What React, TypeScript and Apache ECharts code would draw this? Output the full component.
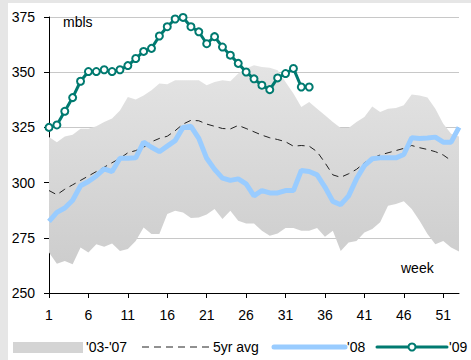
import React, { useEffect, useRef } from "react";
import * as echarts from "echarts";

const weeks: string[] = Array.from({ length: 53 }, (_, i) => String(i + 1));

const bandMax = [
  320.6, 318.3, 320.9, 321.7, 324.4, 324.4, 325.5, 327.4, 329.0, 332.7,
  338.8, 337.6, 339.5, 341.8, 344.9, 344.5, 346.4, 346.4, 346.4, 346.4,
  344.1, 345.6, 346.4, 345.9, 349.4, 351.7, 353.2, 352.4, 352.0, 350.9,
  345.6, 340.3, 334.2, 336.5, 333.5, 330.5, 327.4, 324.7, 324.7, 327.4,
  329.7, 334.5, 332.0, 333.5, 333.8, 335.0, 339.9, 339.5, 338.5, 333.5,
  326.7, 322.1, 320.9,
];

const bandMin = [
  268.3, 263.3, 264.5, 263.0, 270.6, 268.3, 272.1, 270.9, 272.4, 269.0,
  269.9, 273.6, 279.7, 276.7, 276.7, 285.8, 287.3, 286.5, 284.0, 284.2,
  285.5, 288.0, 283.5, 287.3, 282.7, 281.5, 281.5, 278.2, 275.9, 277.0,
  279.4, 279.4, 278.2, 278.2, 279.4, 275.5, 278.2, 269.0, 272.9, 273.6,
  277.4, 279.0, 282.0, 289.5, 290.3, 291.5, 288.0, 282.7, 276.7, 272.1,
  273.6, 270.6, 268.8,
];

const avg5yr = [
  296.4, 294.5, 297.0, 299.0, 301.0, 303.0, 305.0, 307.0, 309.0, 311.0,
  313.5, 314.5, 316.0, 318.5, 320.0, 321.0, 323.5, 326.5, 328.2, 328.0,
  326.5, 325.5, 324.5, 324.3, 325.9, 324.5, 323.0, 321.5, 320.3, 319.5,
  318.5, 316.5, 316.8, 316.5, 314.0, 309.0, 303.5, 302.4, 304.0, 306.0,
  309.0, 311.0, 312.5, 313.5, 314.5, 315.5, 316.8, 315.8, 315.0, 314.0,
  312.5, 310.0,
];

const y2008 = [
  282.4, 286.5, 288.5, 292.0, 298.6, 300.5, 303.0, 306.2, 305.0, 311.0,
  311.0, 311.2, 318.3, 316.0, 314.0, 316.5, 319.0, 325.0, 325.5, 320.0,
  311.0, 306.0, 302.0, 301.0, 301.7, 299.4, 294.0, 296.4, 295.3, 295.3,
  296.4, 296.4, 305.5, 305.0, 303.5, 298.0, 291.5, 290.0, 294.0, 301.7,
  307.7, 310.8, 311.2, 311.2, 311.2, 312.7, 320.3, 320.0, 320.2, 320.6,
  318.3, 318.3, 325.0,
];

const y2009 = [
  325.0, 326.1, 332.3, 338.5, 345.9, 350.3, 350.3, 351.1, 350.3, 351.1,
  353.0, 356.2, 359.4, 360.8, 366.4, 370.6, 374.1, 374.8, 370.6, 368.3,
  362.9, 366.1, 361.4, 357.7, 354.0, 350.1, 347.0, 344.1, 342.1, 347.4,
  349.4, 351.7, 343.3, 343.3,
];

const legendLabels = ["'03-'07", "5yr avg", "'08", "'09"];

const TEAL = "#007a70";
const BLUE = "#99ccff";
const FONT = "Liberation Sans, Arial, sans-serif";

export default function App() {
  const ref = useRef<HTMLDivElement>(null);

  useEffect(() => {
    if (!ref.current) return;
    const chart = echarts.init(ref.current, undefined, { renderer: "svg" });
    const bandDiff = bandMax.map((v, i) => +(v - bandMin[i]).toFixed(2));
    const legendY = 347;

    chart.setOption({
      animation: false,
      backgroundColor: "#ffffff",
      textStyle: { fontFamily: FONT },
      grid: { left: 49, right: 12, top: 17, bottom: 67, containLabel: false },
      xAxis: {
        type: "category",
        data: weeks,
        boundaryGap: false,
        axisLine: { lineStyle: { color: "#000", width: 1 } },
        axisTick: { interval: 4, length: 5, lineStyle: { color: "#000" } },
        axisLabel: { interval: 4, color: "#000", fontSize: 14, margin: 15, fontFamily: FONT },
        splitLine: { show: false },
      },
      yAxis: {
        type: "value",
        min: 250,
        max: 375,
        interval: 25,
        axisLine: { show: true, lineStyle: { color: "#000", width: 1 } },
        axisTick: { show: true, length: 5, lineStyle: { color: "#000" } },
        axisLabel: { color: "#000", fontSize: 14, margin: 14, fontFamily: FONT },
        splitLine: { show: true, lineStyle: { color: "#c8c8c8", width: 1 } },
      },
      series: [
        {
          name: "base",
          type: "line",
          data: bandMin,
          stack: "band",
          symbol: "none",
          lineStyle: { width: 0, opacity: 0 },
          silent: true,
          z: 1,
        },
        {
          name: legendLabels[0],
          type: "line",
          data: bandDiff,
          stack: "band",
          symbol: "none",
          lineStyle: { width: 0, opacity: 0 },
          areaStyle: {
            opacity: 1,
            color: new echarts.graphic.LinearGradient(0, 0, 0, 1, [
              { offset: 0, color: "#e4e4e4" },
              { offset: 1, color: "#cdcdcd" },
            ]),
          },
          silent: true,
          z: 1,
        },
        {
          name: legendLabels[1],
          type: "line",
          data: avg5yr,
          symbol: "none",
          lineStyle: { color: "#222", width: 1, type: [7, 5] },
          z: 3,
        },
        {
          name: legendLabels[2],
          type: "line",
          data: y2008,
          symbol: "none",
          lineStyle: { color: BLUE, width: 5 },
          z: 4,
        },
        {
          name: legendLabels[3],
          type: "line",
          data: y2009,
          symbol: "circle",
          symbolSize: 7,
          showAllSymbol: true,
          itemStyle: { color: "#ffffff", borderColor: TEAL, borderWidth: 2 },
          lineStyle: { color: TEAL, width: 3 },
          z: 5,
        },
      ],
      graphic: [
        { type: "rect", shape: { x: 0, y: 0, width: 471, height: 3 }, style: { fill: "#e6e6e6" }, z: 0 },
        { type: "rect", shape: { x: 0, y: 0, width: 8, height: 360 }, style: { fill: "#e6e6e6" }, z: 0 },
        {
          type: "text",
          x: 63,
          y: 22,
          style: { text: "mbls", fill: "#000", font: `14px ${FONT}`, textVerticalAlign: "middle" },
          z: 10,
        },
        {
          type: "text",
          x: 401,
          y: 268,
          style: { text: "week", fill: "#000", font: `14px ${FONT}`, textVerticalAlign: "middle" },
          z: 10,
        },
        // legend
        { type: "rect", shape: { x: 13, y: legendY - 5, width: 70, height: 11 }, style: { fill: "#d4d4d4" }, z: 10 },
        {
          type: "text",
          x: 86,
          y: legendY,
          style: { text: legendLabels[0], fill: "#000", font: `14px ${FONT}`, textVerticalAlign: "middle" },
          z: 10,
        },
        {
          type: "line",
          shape: { x1: 142, y1: legendY, x2: 212, y2: legendY },
          style: { stroke: "#222", lineWidth: 1, lineDash: [7, 5] },
          z: 10,
        },
        {
          type: "text",
          x: 213,
          y: legendY,
          style: { text: legendLabels[1], fill: "#000", font: `14px ${FONT}`, textVerticalAlign: "middle" },
          z: 10,
        },
        {
          type: "line",
          shape: { x1: 274, y1: legendY, x2: 345, y2: legendY },
          style: { stroke: BLUE, lineWidth: 5, lineCap: "round" },
          z: 10,
        },
        {
          type: "text",
          x: 347,
          y: legendY,
          style: { text: legendLabels[2], fill: "#000", font: `14px ${FONT}`, textVerticalAlign: "middle" },
          z: 10,
        },
        {
          type: "line",
          shape: { x1: 377, y1: legendY, x2: 447, y2: legendY },
          style: { stroke: TEAL, lineWidth: 3, lineCap: "round" },
          z: 10,
        },
        {
          type: "circle",
          shape: { cx: 412, cy: legendY, r: 3.5 },
          style: { fill: "#ffffff", stroke: TEAL, lineWidth: 2 },
          z: 11,
        },
        {
          type: "text",
          x: 449,
          y: legendY,
          style: { text: legendLabels[3], fill: "#000", font: `14px ${FONT}`, textVerticalAlign: "middle" },
          z: 10,
        },
      ],
    });
    return () => chart.dispose();
  }, []);

  return (
    <div
      ref={ref}
      style={{ position: "fixed", left: 0, top: 0, width: 471, height: 360 }}
    />
  );
}
